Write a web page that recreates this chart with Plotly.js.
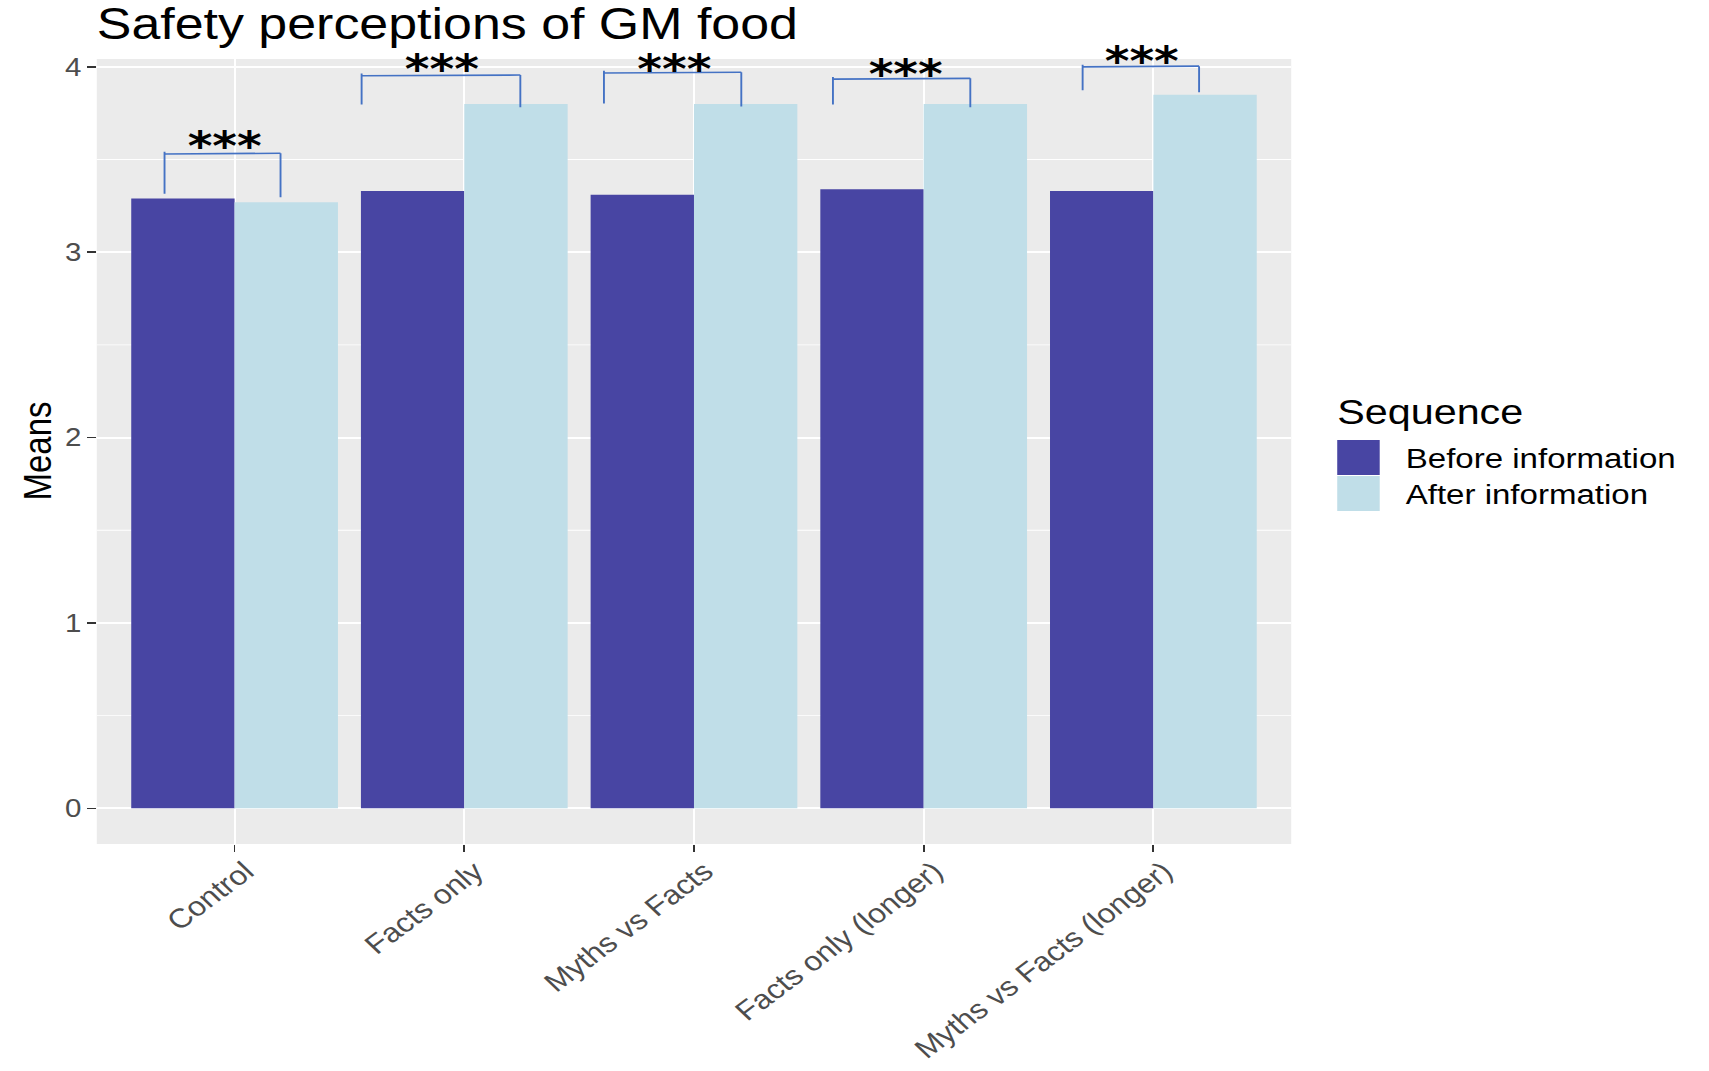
<!DOCTYPE html>
<html>
<head>
<meta charset="utf-8">
<script src="https://cdn.plot.ly/plotly-3.0.1.min.js"></script>
<style>
html, body { margin: 0; padding: 0; overflow: hidden; background: #ffffff; }
#chart { width: 1448px; height: 1071px; transform: scaleX(1.18025); transform-origin: 0 0; }
</style>
</head>
<body>
<div id="chart"></div>
<script>
// ---------- data ----------
const categories = ['Control', 'Facts only', 'Myths vs Facts', 'Facts only (longer)', 'Myths vs Facts (longer)'];
const beforeMeans = [3.29, 3.33, 3.31, 3.34, 3.33];
const afterMeans = [3.27, 3.80, 3.80, 3.80, 3.85];
const seriesNames = ['Before information', 'After information'];
const yTickValues = [0, 1, 2, 3, 4];
const yTickLabels = ['0', '1', '2', '3', '4'];
const legendTitle = 'Sequence';
const chartTitle = 'Safety perceptions of GM food';
const yTitle = 'Means';

// significance brackets
const sigLabels = ['***', '***', '***', '***', '***'];
const bracketTop = [3.53, 3.952, 3.967, 3.934, 4.0];
const bracketLeftEnd = [3.316, 3.797, 3.802, 3.797, 3.874];
const bracketRightEnd = [3.296, 3.782, 3.786, 3.782, 3.863];
const bracketLeftOffset = [-0.305, -0.447, -0.392, -0.395, -0.308];
const bracketRightOffset = [0.20, 0.244, 0.206, 0.203, 0.199];
const starOffset = [-0.04, -0.096, -0.087, -0.08, -0.05];
const starLevel = [3.608, 4.02, 4.02, 3.995, 4.066];

// ---------- style ----------
const seriesColors = ['#4845A3', '#C0DEE8'];
const W = 1448, H = 1071;
const M = { l: 82, r: 354, t: 59, b: 227 };
const yRange = [-0.1925, 4.0425];
const fontFamily = 'Liberation Sans, Arial, sans-serif';
const starFont = 40;
const ppu = (H - M.t - M.b) / (yRange[1] - yRange[0]);
const plotW = W - M.l - M.r, plotH = H - M.t - M.b;
const px2x = p => (p - M.l) / plotW;
const py2y = p => (H - M.b - p) / plotH;

const traces = [
  { type: 'bar', name: seriesNames[0], x: categories, y: beforeMeans,
    marker: { color: seriesColors[0], line: { width: 0 } }, hoverinfo: 'x+y+name' },
  { type: 'bar', name: seriesNames[1], x: categories, y: afterMeans,
    marker: { color: seriesColors[1], line: { width: 0 } }, hoverinfo: 'x+y+name' }
];

const shapes = [];
const annotations = [];
const bracketLine = { color: '#4472C4', width: 1.6 };

categories.forEach((c, i) => {
  const xl = i + bracketLeftOffset[i];
  const xr = i + bracketRightOffset[i];
  shapes.push({ type: 'line', xref: 'x', yref: 'y', x0: xl, x1: xr, y0: bracketTop[i], y1: bracketTop[i] + 0.004, line: bracketLine });
  shapes.push({ type: 'line', xref: 'x', yref: 'y', x0: xl, x1: xl, y0: bracketTop[i] + 0.012, y1: bracketLeftEnd[i], line: bracketLine });
  shapes.push({ type: 'line', xref: 'x', yref: 'y', x0: xr, x1: xr, y0: bracketTop[i] + 0.004, y1: bracketRightEnd[i], line: bracketLine });
  annotations.push({
    xref: 'x', yref: 'y', x: i + starOffset[i], y: bracketTop[i],
    text: '<b>' + sigLabels[i] + '</b>', showarrow: false, xanchor: 'center', yanchor: 'middle',
    yshift: (starLevel[i] - bracketTop[i]) * ppu - 0.15 * starFont,
    font: { family: 'DejaVu Sans, sans-serif', size: starFont, color: '#000000' }
  });
});

// manual legend (large square keys like the original)
const keyTops = [440, 476];
const keyH = 35;
seriesNames.forEach((n, k) => {
  shapes.push({ type: 'rect', xref: 'paper', yref: 'paper',
    x0: px2x(1133), x1: px2x(1169), y0: py2y(keyTops[k] + keyH), y1: py2y(keyTops[k]),
    fillcolor: seriesColors[k], line: { width: 0 } });
  annotations.push({ xref: 'paper', yref: 'paper', x: px2x(1188.5), y: py2y(keyTops[k] + keyH / 2 + 1),
    text: n, showarrow: false, xanchor: 'left', yanchor: 'middle',
    font: { family: fontFamily, size: 28, color: '#000000' } });
});
annotations.push({ xref: 'paper', yref: 'paper', x: px2x(1131), y: py2y(411),
  text: legendTitle, showarrow: false, xanchor: 'left', yanchor: 'middle',
  font: { family: fontFamily, size: 35, color: '#000000' } });
annotations.push({ xref: 'paper', yref: 'paper', x: px2x(32), y: 0.5,
  text: yTitle, showarrow: false, xanchor: 'center', yanchor: 'middle', textangle: -90,
  font: { family: fontFamily, size: 33, color: '#000000' } });

const layout = {
  width: W, height: H,
  margin: { l: M.l, r: M.r, t: M.t, b: M.b, pad: 0 },
  paper_bgcolor: '#ffffff', plot_bgcolor: '#EBEBEB',
  font: { family: fontFamily, color: '#000000' },
  title: { text: chartTitle, font: { family: fontFamily, size: 44, color: '#000000' },
    xref: 'paper', x: 0, xanchor: 'left', yref: 'container', y: 1 - 23.5 / H, yanchor: 'middle' },
  barmode: 'group', bargap: 0.1, bargroupgap: 0,
  showlegend: false,
  xaxis: {
    type: 'category', categoryorder: 'array', categoryarray: categories, range: [-0.6, 4.6],
    showgrid: true, gridcolor: '#ffffff', gridwidth: 1.8, zeroline: false, showline: false,
    ticks: 'outside', ticklen: 7, tickwidth: 1.5, tickcolor: '#333333',
    tickangle: -41.5, ticklabelshift: 9, ticklabelstandoff: -7,
    tickfont: { family: fontFamily, size: 27, color: '#4D4D4D' }, fixedrange: true
  },
  yaxis: {
    range: yRange, tickmode: 'array', tickvals: yTickValues, ticktext: yTickLabels,
    showgrid: true, gridcolor: '#ffffff', gridwidth: 1.8, zeroline: false, showline: false,
    minor: { tick0: 0, dtick: 0.5, showgrid: true, gridcolor: '#ffffff', gridwidth: 0.9, ticks: '' },
    ticks: 'outside', ticklen: 7, tickwidth: 1.5, tickcolor: '#333333',
    tickfont: { family: fontFamily, size: 25, color: '#4D4D4D' }, fixedrange: true
  },
  shapes: shapes,
  annotations: annotations
};

Plotly.newPlot('chart', traces, layout, { displayModeBar: false, staticPlot: true });
</script>
</body>
</html>
